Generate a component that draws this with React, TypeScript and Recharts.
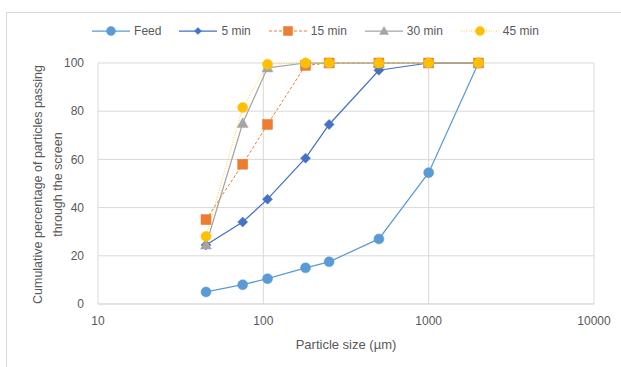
import { LineChart, Line, XAxis, YAxis, CartesianGrid, Legend, Label } from 'recharts';

const sizes = [45, 75, 106, 180, 250, 500, 1000, 2000];
const feed = [5, 8, 10.5, 15, 17.5, 27, 54.5, 100];
const min5 = [24.5, 34, 43.5, 60.5, 74.5, 97, 100, 100];
const min15 = [35, 58, 74.5, 99, 100, 100, 100, 100];
const min30 = [24.5, 75, 98, 100, 100, 100, 100, 100];
const min45 = [28, 81.5, 99.5, 100, 100, 100, 100, 100];

const xTicks = [10, 100, 1000, 10000];
const yTicks = [0, 20, 40, 60, 80, 100];

const data = sizes.map((s, i) => ({
  size: s,
  feed: feed[i],
  min5: min5[i],
  min15: min15[i],
  min30: min30[i],
  min45: min45[i],
}));

type Shape = 'circle' | 'diamond' | 'square' | 'triangle';

const series: { key: string; name: string; color: string; dash?: string; width: number; shape: Shape; r: number }[] = [
  { key: 'feed', name: 'Feed', color: '#5B9BD5', width: 1.25, shape: 'circle', r: 5 },
  { key: 'min5', name: '5 min', color: '#4472C4', width: 1.25, shape: 'diamond', r: 5 },
  { key: 'min15', name: '15 min', color: '#ED7D31', dash: '3 2', width: 1, shape: 'square', r: 5 },
  { key: 'min30', name: '30 min', color: '#A5A5A5', width: 1.25, shape: 'triangle', r: 5.5 },
  { key: 'min45', name: '45 min', color: '#FFC000', dash: '1 1.5', width: 0.75, shape: 'circle', r: 5 },
];

function marker(shape: Shape, cx: number, cy: number, r: number, color: string, key?: string) {
  if (shape === 'circle') return <circle key={key} cx={cx} cy={cy} r={r} fill={color} stroke={color} strokeWidth={0.5} />;
  if (shape === 'square')
    return <rect key={key} x={cx - r} y={cy - r} width={r * 2} height={r * 2} fill={color} stroke={color} strokeWidth={0.5} />;
  if (shape === 'diamond')
    return (
      <path key={key} d={`M${cx},${cy - r} L${cx + r},${cy} L${cx},${cy + r} L${cx - r},${cy} Z`} fill={color} stroke={color} strokeWidth={0.5} />
    );
  return (
    <path key={key} d={`M${cx},${cy - r} L${cx + r},${cy + r * 0.75} L${cx - r},${cy + r * 0.75} Z`} fill={color} stroke={color} strokeWidth={0.5} />
  );
}

const font = '"Liberation Sans", Arial, sans-serif';

function LegendContent() {
  return (
    <div style={{ display: 'flex', justifyContent: 'center', gap: 18, fontFamily: font, fontSize: 12, color: '#595959', paddingLeft: 10 }}>
      {series.map((s) => (
        <div key={s.key} style={{ display: 'flex', alignItems: 'center', gap: 4 }}>
          <svg width={38} height={12}>
            <line x1={0} y1={6} x2={38} y2={6} stroke={s.color} strokeWidth={s.width} strokeDasharray={s.dash} />
            {marker(s.shape, 19, 6, s.shape === 'diamond' ? 3.5 : 4.5, s.color)}
          </svg>
          <span>{s.name}</span>
        </div>
      ))}
    </div>
  );
}

function YTitle(props: any) {
  const vb = props.viewBox;
  const cy = vb.y + vb.height / 2 + 1;
  return (
    <text transform={`rotate(-90, 0, 0)`} fill="#595959" fontSize={12.5} fontFamily={font} textAnchor="middle">
      <tspan x={-cy} y={42}>Cumulative percentage  of particles passing</tspan>
      <tspan x={-cy} y={62}>through the  screen</tspan>
    </text>
  );
}

export default function App() {
  return (
    <div style={{ position: 'absolute', left: 0, top: 0, width: 621, height: 367, background: '#fff' }}>
      <div style={{ position: 'absolute', left: 6, top: 12, width: 640, height: 380, borderTop: '1px solid #d9d9d9', borderLeft: '1px solid #d9d9d9' }} />
      <LineChart width={621} height={367} data={data} margin={{ top: 49, right: 27, bottom: 0, left: 0 }} style={{ position: 'absolute', left: 0, top: 0 }}>
        <CartesianGrid stroke="#d9d9d9" strokeWidth={1} />
        <XAxis
          dataKey="size"
          type="number"
          scale="log"
          domain={[10, 10000]}
          ticks={xTicks}
          allowDataOverflow
          axisLine={{ stroke: '#d9d9d9' }}
          tickLine={false}
          tickMargin={6}
          height={63}
          tick={{ fill: '#595959', fontSize: 12, fontFamily: font }}
        >
          <Label value="Particle size (µm)" position="insideBottom" offset={18} fill="#595959" fontSize={13} fontFamily={font} />
        </XAxis>
        <YAxis
          type="number"
          domain={[0, 100]}
          ticks={yTicks}
          width={98}
          axisLine={false}
          tickLine={false}
          tickMargin={8}
          tick={{ fill: '#595959', fontSize: 12, fontFamily: font }}
        >
          <Label content={YTitle} />
        </YAxis>
        <Legend verticalAlign="top" content={LegendContent} wrapperStyle={{ top: 24, left: 0, width: 621 }} />
        {series.map((s) => (
          <Line
            key={s.key}
            dataKey={s.key}
            name={s.name}
            stroke={s.color}
            strokeWidth={s.width}
            strokeDasharray={s.dash}
            isAnimationActive={false}
            dot={(p: any) => marker(s.shape, p.cx, p.cy, s.r, s.color, `${s.key}-${p.index}`)}
            activeDot={false}
          />
        ))}
      </LineChart>
    </div>
  );
}
